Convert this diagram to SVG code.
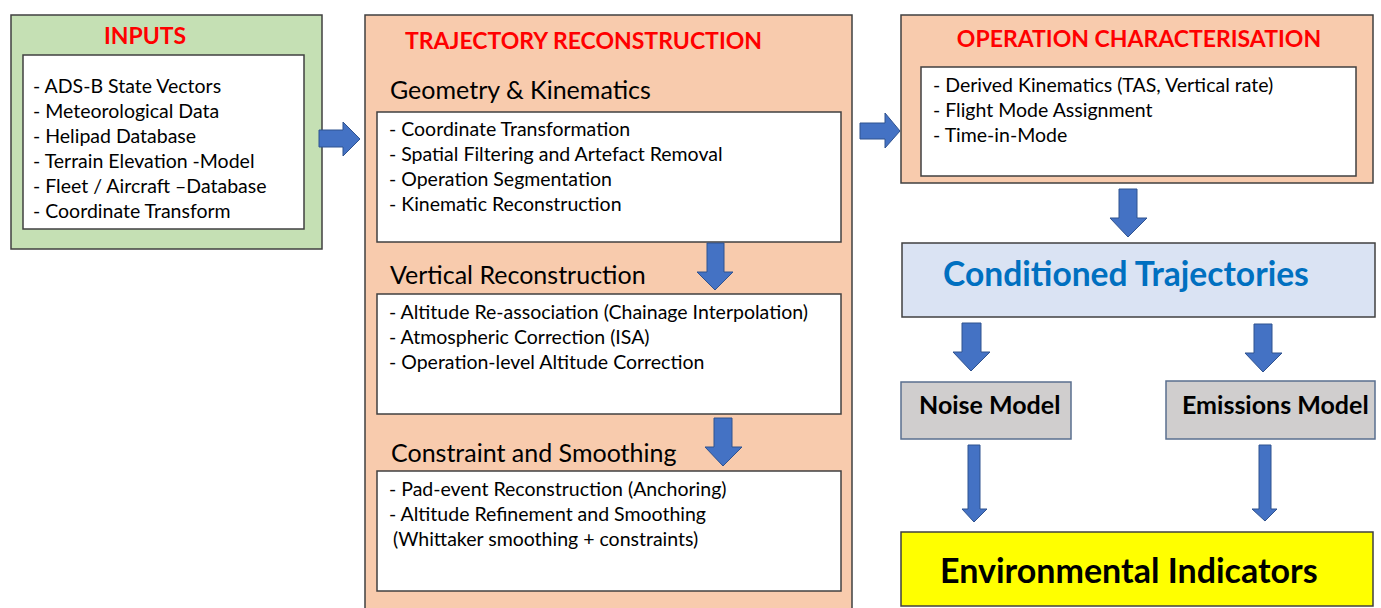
<svg xmlns="http://www.w3.org/2000/svg" width="1381" height="608" viewBox="0 0 1381 608">
  <style>
    text { font-family: Lato, "Open Sans", "Liberation Sans", sans-serif; }
    .box { stroke: #404040; stroke-width: 1.5; }
    .panel { fill: #FFFFFF; stroke: #404040; stroke-width: 1.5; }
    .title { font-size: 23px; font-weight: 700; fill: #FF0000; }
    .sub { font-size: 25px; fill: #000000; }
    .item { font-size: 19.5px; fill: #000000; }
    .model { font-size: 25px; font-weight: 700; fill: #000000; }
    .arrow { fill: #4472C4; stroke: #2F528F; stroke-width: 1; }
  </style>

  <!-- Inputs -->
  <g id="inputs">
    <rect class="box" x="11" y="15" width="311" height="234" fill="#C5E0B4"/>
    <text class="title" x="145" y="44" text-anchor="middle">INPUTS</text>
    <rect class="panel" x="23" y="55" width="281" height="174"/>
    <text class="item" x="33" y="93">- ADS-B State Vectors</text>
    <text class="item" x="33" y="118">- Meteorological Data</text>
    <text class="item" x="33" y="143">- Helipad Database</text>
    <text class="item" x="33" y="168">- Terrain Elevation -Model</text>
    <text class="item" x="33" y="193">- Fleet / Aircraft –Database</text>
    <text class="item" x="33" y="218">- Coordinate Transform</text>
  </g>

  <!-- Trajectory reconstruction -->
  <g id="trajectory-reconstruction">
    <rect class="box" x="365" y="15" width="487" height="600" fill="#F8CBAD"/>
    <text class="title" x="405" y="49">TRAJECTORY RECONSTRUCTION</text>

    <text class="sub" x="390" y="99">Geometry &amp; Kinematics</text>
    <rect class="panel" x="377" y="112" width="464" height="130"/>
    <text class="item" x="389" y="136">- Coordinate Transformation</text>
    <text class="item" x="389" y="161">- Spatial Filtering and Artefact Removal</text>
    <text class="item" x="389" y="186">- Operation Segmentation</text>
    <text class="item" x="389" y="211">- Kinematic Reconstruction</text>

    <text class="sub" x="390" y="284">Vertical Reconstruction</text>
    <rect class="panel" x="377" y="294" width="464" height="120"/>
    <text class="item" x="389" y="319">- Altitude Re-association (Chainage Interpolation)</text>
    <text class="item" x="389" y="344">- Atmospheric Correction (ISA)</text>
    <text class="item" x="389" y="369">- Operation-level Altitude Correction</text>

    <text class="sub" x="391" y="462">Constraint and Smoothing</text>
    <rect class="panel" x="377" y="471" width="464" height="120"/>
    <text class="item" x="389" y="496">- Pad-event Reconstruction (Anchoring)</text>
    <text class="item" x="389" y="521">- Altitude Refinement and Smoothing</text>
    <text class="item" x="393" y="546">(Whittaker smoothing + constraints)</text>
  </g>

  <!-- Operation characterisation -->
  <g id="operation-characterisation">
    <rect class="box" x="901" y="15" width="472" height="168" fill="#F8CBAD"/>
    <text class="title" x="1139" y="47" text-anchor="middle">OPERATION CHARACTERISATION</text>
    <rect class="panel" x="921" y="67" width="435" height="109"/>
    <text class="item" x="933" y="92">- Derived Kinematics (TAS, Vertical rate)</text>
    <text class="item" x="933" y="117">- Flight Mode Assignment</text>
    <text class="item" x="933" y="142">- Time-in-Mode</text>
  </g>

  <!-- Conditioned trajectories -->
  <g id="conditioned-trajectories">
    <rect class="box" x="902" y="243" width="473" height="74" fill="#DAE3F3"/>
    <text x="1126" y="286" text-anchor="middle" font-size="33.6" font-weight="700" fill="#0070C0">Conditioned Trajectories</text>
  </g>

  <!-- Models -->
  <g id="noise-model">
    <rect x="901" y="382" width="170" height="57" fill="#D0CECE" stroke="#5A6F8F" stroke-width="1.5"/>
    <text class="model" x="919" y="414">Noise Model</text>
  </g>
  <g id="emissions-model">
    <rect x="1166" y="381" width="209" height="58" fill="#D0CECE" stroke="#5A6F8F" stroke-width="1.5"/>
    <text class="model" x="1182" y="414">Emissions Model</text>
  </g>

  <!-- Environmental indicators -->
  <g id="environmental-indicators">
    <rect class="box" x="901" y="532" width="472" height="74" fill="#FFFF00"/>
    <text x="940" y="583" font-size="34" font-weight="700" fill="#000000">Environmental Indicators</text>
  </g>

  <!-- Connectors: block arrows -->
  <g id="connectors">
    <!-- right-pointing -->
    <path class="arrow" d="M319,130 H343 V122 L360,139 L343,156 V147 H319 Z"/>
    <path class="arrow" d="M860,123 H885 V113 L900,131 L885,148 V139 H860 Z"/>
    <!-- down-pointing, inside trajectory panel -->
    <path class="arrow" d="M707,243 H724 V272 H733 L715,290 L697,272 H707 Z"/>
    <path class="arrow" d="M714,418 H732 V447 H742 L723,466 L705,447 H714 Z"/>
    <!-- operation -> conditioned -->
    <path class="arrow" d="M1119,189 H1137 V218 H1147 L1128,237 L1110,218 H1119 Z"/>
    <!-- conditioned -> models -->
    <path class="arrow" d="M962,323 H981 V352 H990 L971,371 L953,352 H962 Z"/>
    <path class="arrow" d="M1254,324 H1272 V353 H1282 L1263,372 L1245,353 H1254 Z"/>
    <!-- models -> indicators -->
    <path class="arrow" d="M968,445 H980 V509 H987 L974,522 L962,509 H968 Z"/>
    <path class="arrow" d="M1259,445 H1271 V509 H1277 L1265,521 L1252,509 H1259 Z"/>
  </g>
</svg>
